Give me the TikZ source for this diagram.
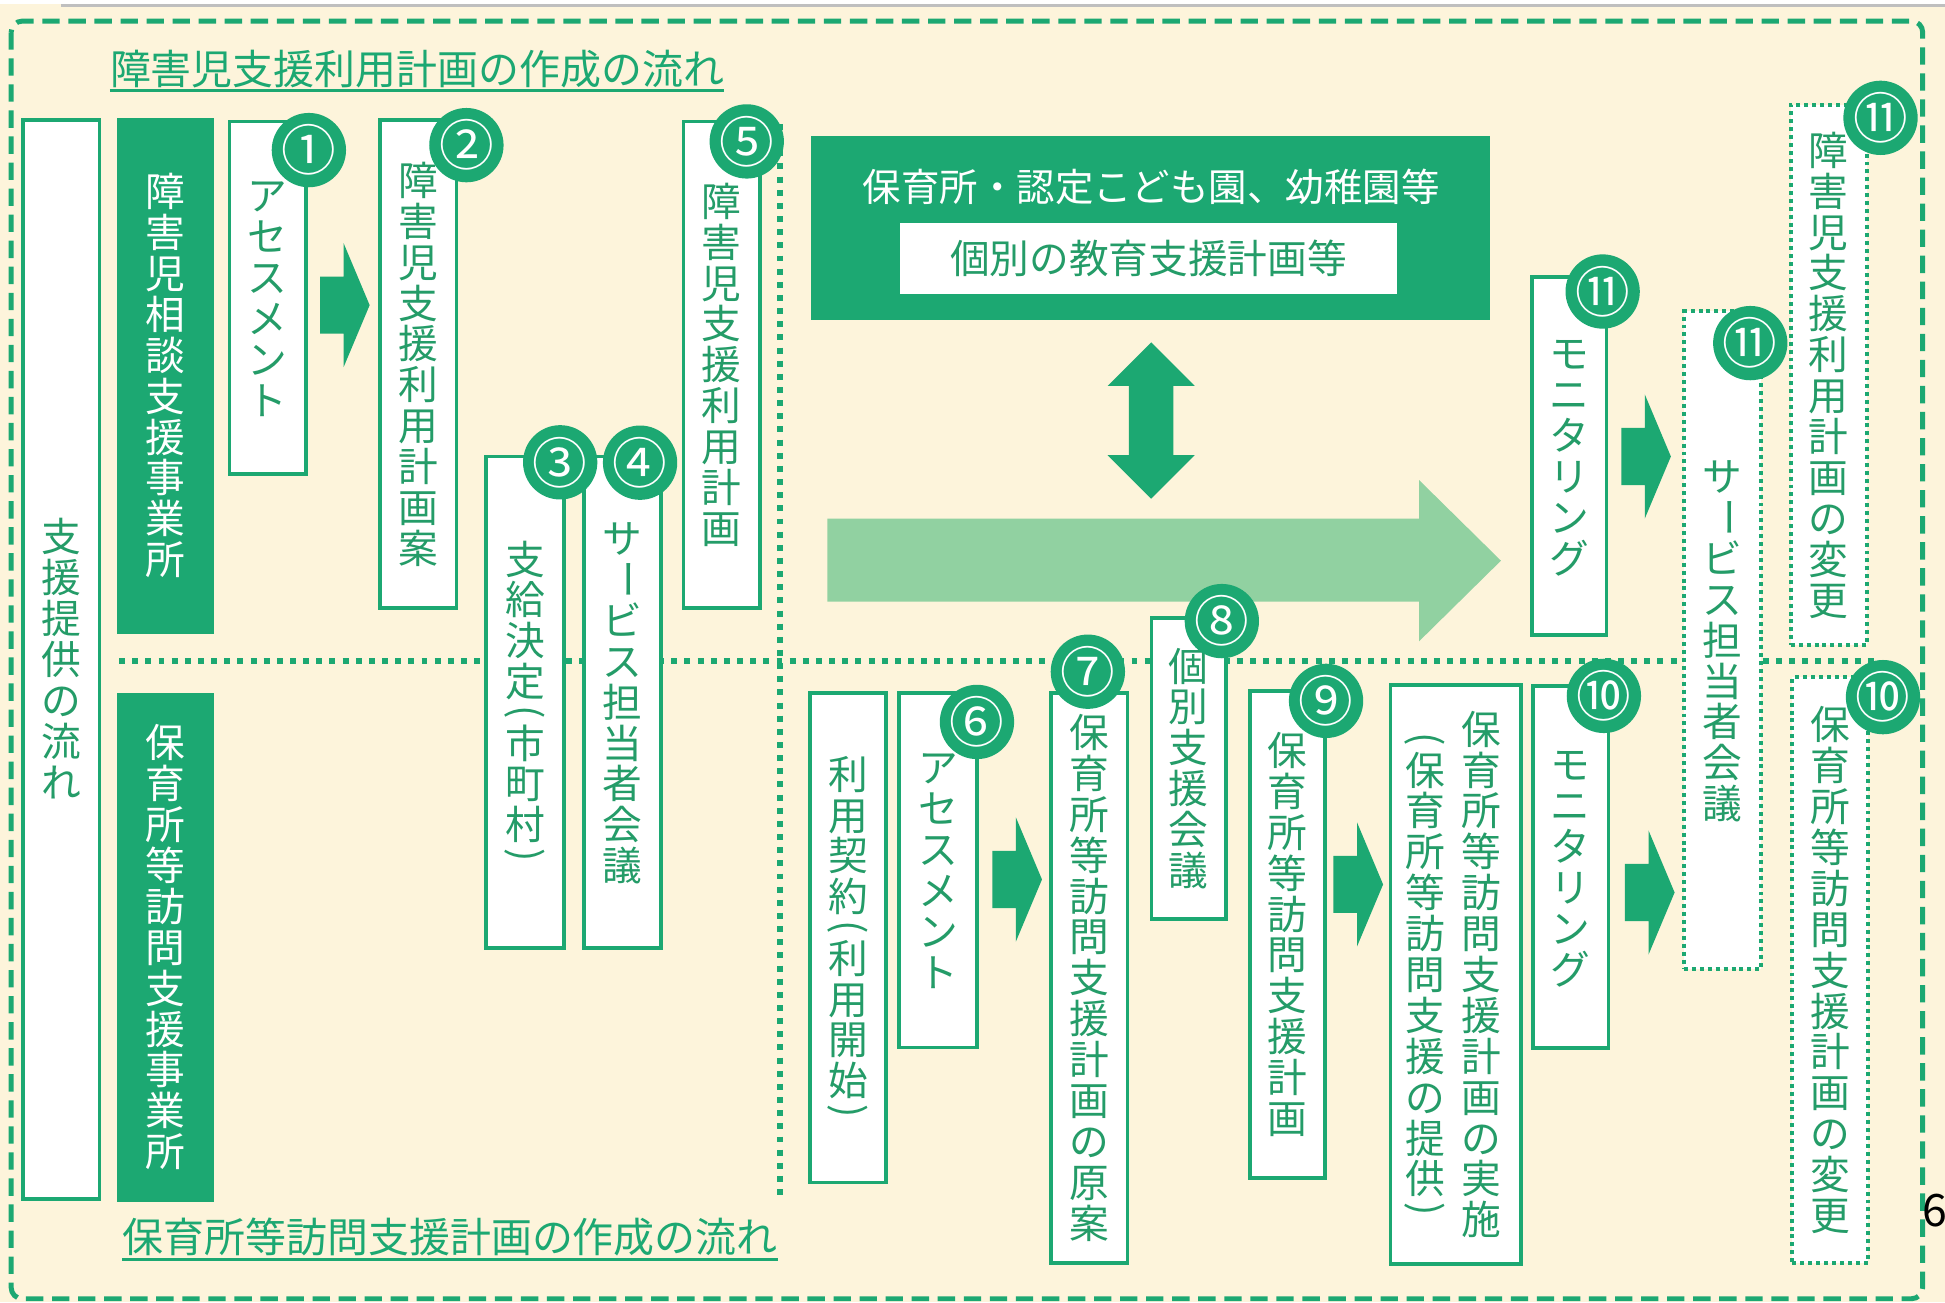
\documentclass[tikz,border=0pt]{standalone}
\usepackage{fontspec}
\setmainfont{Noto Sans CJK JP}
\usepackage{graphicx}
\definecolor{cream}{RGB}{253,244,219}
\definecolor{gr}{RGB}{28,168,114}
\definecolor{grtxt}{RGB}{36,156,104}
\definecolor{grlt}{RGB}{145,209,161}
\makeatletter
\newdimen\vt@p \newdimen\vt@w
\def\vtLP{（}\def\vtRP{）}\def\vtBar{ー}
\newcommand\vt[1]{\vt@p=1.03em\relax\vt@w=1em\relax\vbox{\offinterlineskip\@tfor\vt@c:=#1\do{\vt@one}}}
\def\vt@one{\ifx\vt@c\vtLP\vt@paren{(}\else\ifx\vt@c\vtRP\vt@paren{)}\else\ifx\vt@c\vtBar\vt@bar\else\vt@normal\fi\fi\fi}
\def\vt@normal{\hbox to\vt@w{\hss\vbox to\vt@p{\vss\hbox{\vrule height .88em depth .12em width 0pt\vt@c}\vss}\hss}}
\def\vt@paren#1{\hbox to\vt@w{\hss\vbox to .5\vt@p{\vss\hbox{\rotatebox{-90}{#1}}\vss}\hss}}
\def\vt@bar{\hbox to\vt@w{\hss\vbox to\vt@p{\vss\hbox{\rotatebox{-90}{ー}}\vss}\hss}}
\makeatother
\newcommand\vtfont{\fontsize{32}{33}\selectfont}
\newcommand\numfont{\fontsize{44}{44}\selectfont}
\newcommand\titlefont{\fontsize{33}{33}\selectfont}
\newcommand\rarr[2]{\fill[gr] (#1,#2-23) -- (#1+19,#2-23) -- (#1+19,#2-50) -- (#1+40,#2) -- (#1+19,#2+50) -- (#1+19,#2+23) -- (#1,#2+23) -- cycle;}
\tikzset{
 wbox/.style={draw=gr, line width=3pt, fill=white, inner sep=0pt, text=grtxt, font=\vtfont},
 gbox/.style={fill=gr, inner sep=0pt, text=white, font=\vtfont},
 dbox/.style={draw=gr, line width=3.2pt, dash pattern=on 3.2pt off 3.2pt, fill=white, inner sep=0pt, text=grtxt, font=\vtfont},
 num/.style={circle, fill=gr, minimum size=55pt, inner sep=0pt, text=white, font=\numfont},
 vtxt/.style={inner sep=0pt, text=grtxt, font=\vtfont},
 secline/.style={gr, line width=4.8pt, dash pattern=on 4.8pt off 5.8pt},
 outerb/.style={gr, line width=4pt, dash pattern=on 14pt off 7pt, rounded corners=9pt},
 titlet/.style={anchor=base west, inner sep=0pt, text=gr, font=\titlefont},
}
\begin{document}
\begin{tikzpicture}[x=1pt,y=-1pt]
\useasboundingbox (0,0) rectangle (1568,1050);
% background
\fill[cream] (0,0) rectangle (1568,1050);
\fill[white] (0,0) rectangle (1568,3);
\draw[black!25, line width=3pt] (49,4.5) -- (1568,4.5);
\draw[outerb] (9,17) rectangle (1550,1047);
% section lines
\draw[secline] (629,100) -- (629,967);
\draw[secline] (96,533) -- (1515,533);
% light big arrow
\fill[grlt] (667,418) -- (1144,418) -- (1144,387) -- (1210,452) -- (1144,517) -- (1144,485) -- (667,485) -- cycle;
% titles
\node[titlet] (t1) at (88.5,68.5) {障害児支援利用計画の作成の流れ};
\draw[gr, line width=2pt] ([yshift=-4.5pt]t1.base west) -- ([yshift=-4.5pt]t1.base east);
\node[titlet] (t2) at (98.7,1009.5) {保育所等訪問支援計画の作成の流れ};
\draw[gr, line width=2pt] ([yshift=-6pt]t2.base west) -- ([yshift=-6pt]t2.base east);
% left column
\node[wbox, minimum width=61.7, minimum height=869.9] (L) at (49.35,531.65) {\vt{支援提供の流れ}};
\node[gbox, minimum width=78.1, minimum height=415.7] (G1) at (133.65,302.85) {\vt{障害児相談支援事業所}};
\node[gbox, minimum width=78.1, minimum height=410.1] (G2) at (133.65,763.55) {\vt{保育所等訪問支援事業所}};
% upper flow
\node[wbox, minimum width=61.7, minimum height=284] (B1) at (215.85,240) {\vt{アセスメント}};
\node[wbox, minimum width=61.6, minimum height=393.4] (B2) at (337.2,293.7) {\vt{障害児支援利用計画案}};
\node[wbox, minimum width=62.6, minimum height=396] (B3) at (423.3,566) {\vt{支給決定（市町村）}};
\node[wbox, minimum width=61.6, minimum height=396] (B4) at (501.8,566) {\vt{サービス担当者会議}};
\node[wbox, minimum width=61.7, minimum height=392] (B5) at (581.85,294) {\vt{障害児支援利用計画}};
% nursery box
\node[fill=gr, minimum width=547, minimum height=148.7, inner sep=0pt] (KG) at (927.5,183.65) {};
\node[text=white, font=\fontsize{31}{31}\selectfont, inner sep=0pt] (KGT) at (928,151) {保育所・認定こども園、幼稚園等};
\node[fill=white, minimum width=400.3, minimum height=57, inner sep=0pt, text=grtxt, font=\fontsize{32}{32}\selectfont] (KP) at (925.85,208.5) {個別の教育支援計画等};
% double arrow
\fill[gr] (928,276) -- (963,311) -- (946,311) -- (946,367) -- (963,367) -- (928,402) -- (893,367) -- (910,367) -- (910,311) -- (893,311) -- cycle;
% monitoring / changes (upper)
\node[wbox, minimum width=60, minimum height=288.6] (M11) at (1265,367.7) {\vt{モニタリング}};
\node[dbox, minimum width=62.5, minimum height=530] (D11a) at (1388.75,516) {\vt{サービス担当者会議}};
\node[dbox, minimum width=61.4, minimum height=435.3] (D11b) at (1474.3,302.35) {\vt{障害児支援利用計画の変更}};
% lower flow
\node[wbox, minimum width=61.5, minimum height=394.8] (R1) at (683.55,755.9) {\vt{利用契約（利用開始）}};
\node[wbox, minimum width=62.8, minimum height=285.9] (B6) at (756.2,701.45) {\vt{アセスメント}};
\node[wbox, minimum width=61.5, minimum height=459.5] (B7) at (878.25,788.25) {\vt{保育所等訪問支援計画の原案}};
\node[wbox, minimum width=59.9, minimum height=242.6] (B8) at (958.35,619.3) {\vt{個別支援会議}};
\node[wbox, minimum width=60.2, minimum height=392.9] (B9) at (1037.8,753.25) {\vt{保育所等訪問支援計画}};
\node[wbox, minimum width=105, minimum height=467] (BI) at (1173.5,785.5) {};
\node[vtxt] (BIr) at (1194,785.5) {\vt{保育所等訪問支援計画の実施}};
\node[vtxt] (BIl) at (1149,785.5) {\vt{（保育所等訪問支援の提供）}};
\node[wbox, minimum width=61.1, minimum height=292] (M10) at (1266.15,699) {\vt{モニタリング}};
\node[dbox, minimum width=61, minimum height=472] (D10) at (1475.5,782) {\vt{保育所等訪問支援計画の変更}};
% block arrows
\rarr{258}{246}
\rarr{800}{709}
\rarr{1075}{713}
\rarr{1310}{719.5}
\rarr{1307}{368}
% number circles
\node[num] (c1) at (249,121) {①};
\node[num] (c2) at (376,117) {②};
\node[num] (c3) at (451.6,372.7) {③};
\node[num] (c4) at (516,373) {④};
\node[num] (c5) at (602,114) {⑤};
\node[num] (c6) at (787.6,582) {⑥};
\node[num] (c7) at (877,541.5) {⑦};
\node[num] (c8) at (985,500.7) {⑧};
\node[num] (c9) at (1069,565) {⑨};
\node[num] (c10a) at (1293,561) {⑩};
\node[num] (c11a) at (1292,235) {⑪};
\node[num] (c11b) at (1411,276.6) {⑪};
\node[num] (c11c) at (1516,95) {⑪};
\node[num] (c10b) at (1518,562) {⑩};
% page number
\node[anchor=west, inner sep=0pt, font=\fontsize{36}{36}\selectfont] (pg) at (1550,976) {6};
\end{tikzpicture}
\end{document}
